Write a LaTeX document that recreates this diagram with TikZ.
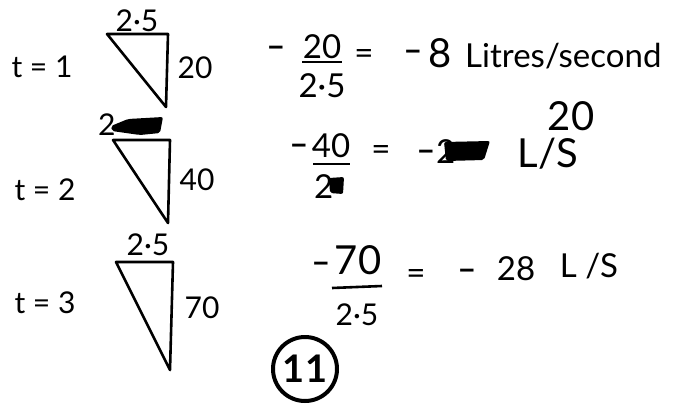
\documentclass[tikz,border=0pt]{standalone}
\usepackage{fontspec}
\setmainfont{Lato}
\begin{document}
\begin{tikzpicture}[
    x=1pt, y=-1pt,
    tri/.style={draw,line width=2.6pt,line join=round},
    lbl/.style={anchor=base,inner sep=0pt,font=\fontsize{30}{32}\selectfont},
    frac/.style={anchor=base,inner sep=0pt,font=\fontsize{33}{35}\selectfont},
    hand/.style={anchor=base,inner sep=0pt,font=\fontsize{33}{36}\selectfont},
    big/.style={anchor=base,inner sep=0pt,font=\fontsize{40}{44}\selectfont},
    minus/.style={anchor=base,inner sep=0pt,font=\fontsize{33}{36}\selectfont\bfseries},
    bar/.style={line width=2.6pt},
    blob/.style={fill=black,rounded corners=2pt},
]

    \useasboundingbox (0,0) rectangle (674,407);

    % time labels
    \node[lbl] (t1) at (42,77) {t = 1};
    \node[lbl] (t2) at (45,200) {t = 2};
    \node[lbl] (t3) at (45,313) {t = 3};

    % triangles
    \draw[tri] (107,34) -- (168,34) -- (166,107) -- cycle;
    \draw[tri] (113,140) -- (170,140) -- (168,223) -- cycle;
    \draw[tri] (116,262) -- (173,262) -- (170,370) -- cycle;

    \node[lbl] (w1) at (137,31) {2·5};
    \node[lbl] (h1) at (195,78) {20};
    \node[lbl,anchor=base west] (w2) at (98,135) {2};
    \fill[blob] (111,126) -- (128,119) -- (163,117) -- (160,133) -- (140,135) -- (112,131) -- cycle;
    \node[lbl] (h2) at (197,190) {40};
    \node[lbl] (w3) at (148,255) {2·5};
    \node[lbl] (h3) at (202,318) {70};

    % row 1
    \node[minus] (m1) at (276,57) {–};
    \node[frac] (n1) at (322,58) {20};
    \draw[bar] (302,62) -- (342,62);
    \node[frac] (d1) at (322,97) {2·5};
    \node[frac] (eq1) at (364,64) {=};
    \node[minus] (r1) at (413,61) {–};
    \node[big] (r1b) at (440,67) {8};
    \node[hand,anchor=base west] (u1) at (465,67) {Litres/second};

    % row 2
    \node[big] (fix2) at (571,130) {20};
    \node[minus] (m2) at (299,155) {–};
    \node[frac] (n2) at (331,157) {40};
    \draw[bar] (313,164) -- (350,164);
    \node[frac,anchor=base west] (d2) at (314,198) {2};
    \fill[blob] (329,178) -- (344,177) -- (343,194) -- (330,193) -- cycle;
    \node[hand] (eq2) at (381,160) {=};
    \node[minus] (r2) at (426,161) {–};
    \node[hand,anchor=base west] (s2) at (436,163) {2};
    \fill[blob] (444,142) -- (490,141) -- (484,160) -- (446,161) -- cycle;
    \node[big] (u2) at (548,167) {L/S};

    % row 3
    \node[minus] (m3) at (321,273) {–};
    \node[big] (n3) at (358,274) {70};
    \draw[bar] (332,288) -- (382,286);
    \node[lbl] (d3) at (357,325) {2·5};
    \node[frac] (eq3) at (416,284) {=};
    \node[minus] (r3) at (467,280) {–};
    \node[hand] (r3b) at (516,280) {28};
    \node[hand] (u3) at (589,277) {L /S};

    % circled mark
    \node[draw,circle,line width=4pt,inner sep=0pt,minimum size=64pt,
        font=\fontsize{38}{40}\selectfont\bfseries] (mark) at (305,369) {11};

\end{tikzpicture}
\end{document}
